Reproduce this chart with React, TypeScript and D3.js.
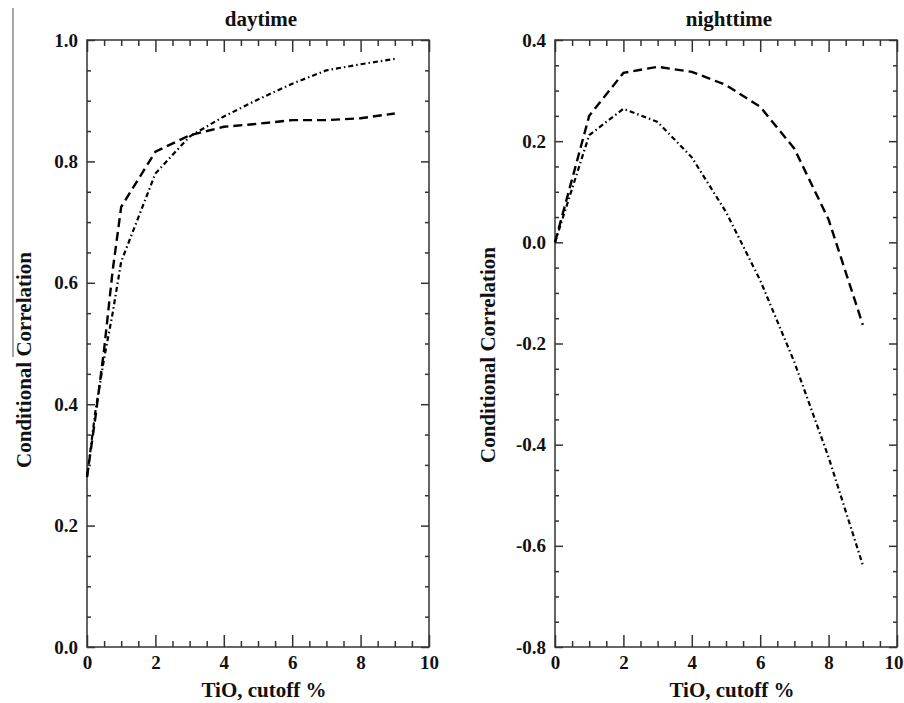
import React, { useEffect, useRef } from "react";
import * as d3 from "d3";

// x values (TiO cutoff %)
const dayX = [0, 0.25, 0.5, 0.75, 1, 2, 3, 4, 5, 6, 7, 8, 9];
const dayDashed = [0.28, 0.38, 0.49, 0.62, 0.725, 0.816, 0.843, 0.857, 0.862, 0.868, 0.868, 0.871, 0.879];
const dayDashDot = [0.28, 0.39, 0.475, 0.55, 0.635, 0.78, 0.841, 0.874, 0.902, 0.928, 0.95, 0.96, 0.969];

const nightX = [0, 1, 2, 3, 4, 5, 6, 7, 8, 9];
const nightDashed = [0.0, 0.25, 0.335, 0.347, 0.337, 0.311, 0.268, 0.185, 0.045, -0.163];
const nightDashDot = [0.0, 0.212, 0.264, 0.238, 0.168, 0.06, -0.075, -0.237, -0.425, -0.638];

const xMajor = [0, 2, 4, 6, 8, 10];
const dayYMajor = [0, 0.2, 0.4, 0.6, 0.8, 1.0];
const nightYMajor = [-0.8, -0.6, -0.4, -0.2, 0, 0.2, 0.4];

const FONT = "'Liberation Serif', 'Times New Roman', serif";
const W = 904;

const drawPanel = (svg, opts) => {
  const { left, right, top, bottom, yDomain, yMajor, title, xs, dashed, dashDot, yLabelX, yLabelY } = opts;

  const x = d3.scaleLinear().domain([0, 10]).range([left, right]);
  const y = d3.scaleLinear().domain(yDomain).range([bottom, top]);

  const xMinor = d3.range(0, 10.001, 0.5).filter((v) => !xMajor.includes(v));
  const yMinor = d3
    .range(yDomain[0], yDomain[1] + 0.001, 0.05)
    .map((v) => +v.toFixed(2))
    .filter((v) => !yMajor.some((m) => Math.abs(m - v) < 1e-6));

  const g = svg.append("g");

  const styleAxis = (sel) => {
    sel.select(".domain").remove();
    sel.selectAll("line").attr("stroke", "#333").attr("stroke-width", 1.5);
    sel
      .selectAll("text")
      .attr("fill", "#111")
      .attr("font-family", FONT)
      .attr("font-weight", "bold")
      .attr("font-size", 19);
  };

  // bottom
  const bottomAxis = g
    .append("g")
    .attr("transform", `translate(0,${bottom})`)
    .call(d3.axisBottom(x).tickValues(xMajor).tickSize(-12).tickPadding(9).tickFormat((d) => String(d)))
    .call(styleAxis);
  // keep the last label inside the page
  if (right + 10 > W) {
    bottomAxis
      .selectAll("text")
      .filter((d) => d === 10)
      .attr("text-anchor", "end")
      .attr("x", W - 1 - right);
  }
  g.append("g")
    .attr("transform", `translate(0,${bottom})`)
    .call(d3.axisBottom(x).tickValues(xMinor).tickSize(-6).tickFormat(() => ""))
    .call(styleAxis);
  // top
  g.append("g")
    .attr("transform", `translate(0,${top})`)
    .call(d3.axisTop(x).tickValues(xMajor).tickSize(-12).tickFormat(() => ""))
    .call(styleAxis);
  g.append("g")
    .attr("transform", `translate(0,${top})`)
    .call(d3.axisTop(x).tickValues(xMinor).tickSize(-6).tickFormat(() => ""))
    .call(styleAxis);
  // left
  g.append("g")
    .attr("transform", `translate(${left},0)`)
    .call(d3.axisLeft(y).tickValues(yMajor).tickSize(-8).tickPadding(9).tickFormat((d) => d.toFixed(1)))
    .call(styleAxis);
  g.append("g")
    .attr("transform", `translate(${left},0)`)
    .call(d3.axisLeft(y).tickValues(yMinor).tickSize(-4).tickFormat(() => ""))
    .call(styleAxis);
  // right
  g.append("g")
    .attr("transform", `translate(${right},0)`)
    .call(d3.axisRight(y).tickValues(yMajor).tickSize(-8).tickFormat(() => ""))
    .call(styleAxis);
  g.append("g")
    .attr("transform", `translate(${right},0)`)
    .call(d3.axisRight(y).tickValues(yMinor).tickSize(-4).tickFormat(() => ""))
    .call(styleAxis);

  // frame
  g.append("rect")
    .attr("x", left)
    .attr("y", top)
    .attr("width", right - left)
    .attr("height", bottom - top)
    .attr("fill", "none")
    .attr("stroke", "#333")
    .attr("stroke-width", 1.5);

  const line = d3
    .line()
    .x((d) => x(d[0]))
    .y((d) => y(d[1]));

  g.append("path")
    .datum(xs.map((v, i) => [v, dashed[i]]))
    .attr("d", line)
    .attr("fill", "none")
    .attr("stroke", "#000")
    .attr("stroke-width", 2.4)
    .attr("stroke-dasharray", "9,5");

  g.append("path")
    .datum(xs.map((v, i) => [v, dashDot[i]]))
    .attr("d", line)
    .attr("fill", "none")
    .attr("stroke", "#000")
    .attr("stroke-width", 2.2)
    .attr("stroke-dasharray", "5,3,1.5,3");

  // title
  g.append("text")
    .attr("x", (left + right) / 2 + 3)
    .attr("y", 26)
    .attr("text-anchor", "middle")
    .attr("font-family", FONT)
    .attr("font-weight", "bold")
    .attr("font-size", 21)
    .attr("fill", "#111")
    .text(title);

  // x label
  g.append("text")
    .attr("x", (left + right) / 2 + 6)
    .attr("y", 697)
    .attr("text-anchor", "middle")
    .attr("font-family", FONT)
    .attr("font-weight", "bold")
    .attr("font-size", 21)
    .attr("fill", "#111")
    .text("TiO, cutoff %");

  // y label
  g.append("text")
    .attr("transform", `translate(${yLabelX},${yLabelY}) rotate(-90)`)
    .attr("text-anchor", "middle")
    .attr("font-family", FONT)
    .attr("font-weight", "bold")
    .attr("font-size", 21)
    .attr("fill", "#111")
    .text("Conditional Correlation");
};

const drawChart = (el) => {
  d3.select(el).selectAll("*").remove();
  const svg = d3
    .select(el)
    .append("svg")
    .attr("width", W)
    .attr("height", 703)
    .style("position", "absolute")
    .style("left", "0px")
    .style("top", "0px")
    .style("background", "#fff");

  // stray vertical rule at far left
  svg
    .append("line")
    .attr("x1", 13)
    .attr("x2", 13)
    .attr("y1", 8)
    .attr("y2", 357)
    .attr("stroke", "#888")
    .attr("stroke-width", 1.5);

  drawPanel(svg, {
    left: 87,
    right: 429,
    top: 40,
    bottom: 647,
    yDomain: [0, 1],
    yMajor: dayYMajor,
    title: "daytime",
    xs: dayX,
    dashed: dayDashed,
    dashDot: dayDashDot,
    yLabelX: 31,
    yLabelY: 360,
  });

  drawPanel(svg, {
    left: 555,
    right: 897,
    top: 40,
    bottom: 647,
    yDomain: [-0.8, 0.4],
    yMajor: nightYMajor,
    title: "nighttime",
    xs: nightX,
    dashed: nightDashed,
    dashDot: nightDashDot,
    yLabelX: 495,
    yLabelY: 355,
  });
};

export default function App() {
  const ref = useRef(null);
  useEffect(() => {
    drawChart(ref.current);
  }, []);
  return <div ref={ref} id="chart" />;
}
